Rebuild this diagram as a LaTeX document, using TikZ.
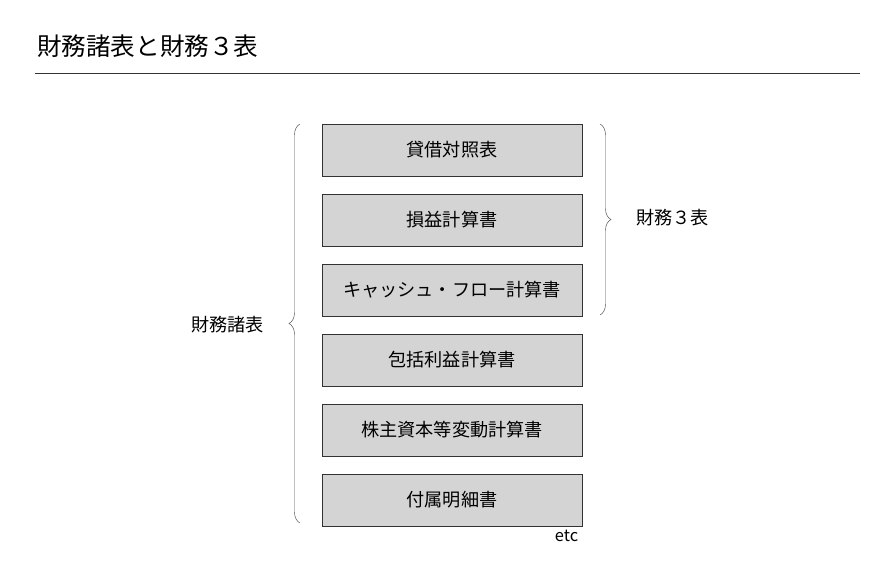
\documentclass[tikz,border=0pt]{standalone}
\usepackage{fontspec}
\setmainfont{Noto Sans CJK JP}
\usetikzlibrary{positioning,decorations.pathreplacing}

\begin{document}
\begin{tikzpicture}[x=0.03cm,y=-0.03cm,node distance=2.1cm,on grid,
   stmt/.style={draw=black!80, fill=black!17, minimum width=7.8cm, minimum height=1.56cm, font=\fontsize{15.5}{18}\selectfont},
   bracket/.style={decorate, decoration={brace, amplitude=0.33cm}, draw=black!70}]
   \useasboundingbox (0,0) rectangle (890,588);
   \node[anchor=base west, font=\fontsize{21}{24}\selectfont] (title) at (33,55) {財務諸表と財務３表};
   \draw[black!80] (35,73) -- (860,73);

   \node[stmt] (bs) at (452,150) {貸借対照表};
   \node[stmt] (pl) [below=of bs] {損益計算書};
   \node[stmt] (cf) [below=of pl] {キャッシュ・フロー計算書};
   \node[stmt] (ci) [below=of cf] {包括利益計算書};
   \node[stmt] (ss) [below=of ci] {株主資本等変動計算書};
   \node[stmt] (sc) [below=of ss] {付属明細書};

   \node[anchor=north east, font=\fontsize{14}{16}\selectfont] (etc) at (sc.south east) {etc};

   \coordinate (lt) at (300,124);
   \coordinate (lb) at (300,523);
   \coordinate (rt) at (600,124);
   \coordinate (rb) at (600,315);
   \draw[bracket] (lb) -- (lt);
   \draw[bracket] (rt) -- (rb);

   \node[anchor=east, font=\fontsize{15.5}{18}\selectfont] (all) at (268,325) {財務諸表};
   \node[anchor=west, font=\fontsize{15.5}{18}\selectfont] (three) at (632,218) {財務３表};
\end{tikzpicture}
\end{document}
